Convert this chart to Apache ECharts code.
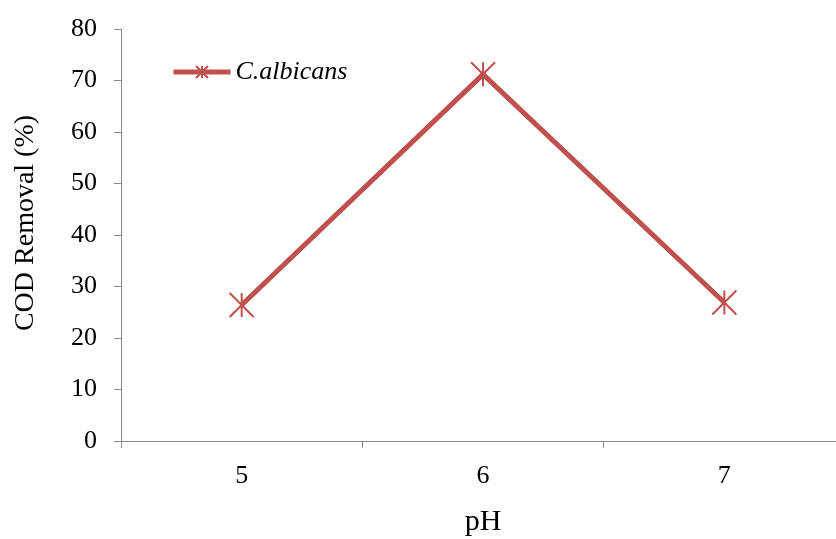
<!DOCTYPE html>
<html>
<head>
<meta charset="utf-8">
<script src="https://cdn.jsdelivr.net/npm/echarts@6/dist/echarts.min.js"></script>
<style>
  html, body { margin: 0; padding: 0; background: #fff; }
  #chart { width: 836px; height: 539px; }
</style>
</head>
<body>
<div id="chart"></div>
<script>
// 数据
const categories = ['5', '6', '7'];
const seriesName = 'C.albicans';
const codRemoval = [26.4, 71.2, 26.9];
const yTicks = { min: 0, max: 80, interval: 10 };

const lineColor = '#C0504D';
const axisColor = '#898989';
const serif = '"Liberation Serif", "Times New Roman", serif';
// 星形标记（X 加竖线）
const starSymbol = 'path://M0,0L24,24M24,0L0,24M12,0L12,24';

const myChart = echarts.init(document.getElementById('chart'));
const option = {
  backgroundColor: '#fff',
  animation: false,
  grid: {
    left: 121, top: 29, height: 412, width: 724,
    containLabel: false,
    outerBoundsMode: 'none'
  },
  legend: {
    left: 171,
    top: 59,
    padding: 0,
    itemWidth: 57,
    itemHeight: 15,
    itemGap: 5,
    lineStyle: { width: 5 },
    textStyle: { fontFamily: serif, fontSize: 26, fontStyle: 'italic', color: '#000' },
    data: [seriesName]
  },
  xAxis: {
    type: 'category',
    data: categories,
    boundaryGap: true,
    name: 'pH',
    nameLocation: 'middle',
    nameGap: 66,
    nameTextStyle: { fontFamily: serif, fontSize: 30, color: '#000' },
    axisLine: { lineStyle: { color: axisColor, width: 1 } },
    axisTick: { show: true, length: 7, inside: false, lineStyle: { color: axisColor } },
    axisLabel: { margin: 22, fontFamily: serif, fontSize: 26, color: '#000' },
    splitLine: { show: false }
  },
  yAxis: {
    type: 'value',
    min: yTicks.min,
    max: yTicks.max,
    interval: yTicks.interval,
    name: 'COD Removal (%)',
    nameLocation: 'middle',
    nameGap: 81,
    nameTextStyle: { fontFamily: serif, fontSize: 28, color: '#000', padding: [0, 0, 0, 24] },
    axisLine: { show: true, lineStyle: { color: axisColor, width: 1 } },
    axisTick: { show: true, length: 7, lineStyle: { color: axisColor } },
    axisLabel: { margin: 24, fontFamily: serif, fontSize: 26, color: '#000' },
    splitLine: { show: false }
  },
  series: [
    {
      name: seriesName,
      type: 'line',
      data: codRemoval,
      symbol: starSymbol,
      symbolSize: 24,
      showAllSymbol: true,
      lineStyle: { color: lineColor, width: 5 },
      itemStyle: { color: lineColor, borderColor: lineColor, borderWidth: 2 },
      z: 3
    }
  ]
};
myChart.setOption(option);
</script>
</body>
</html>
